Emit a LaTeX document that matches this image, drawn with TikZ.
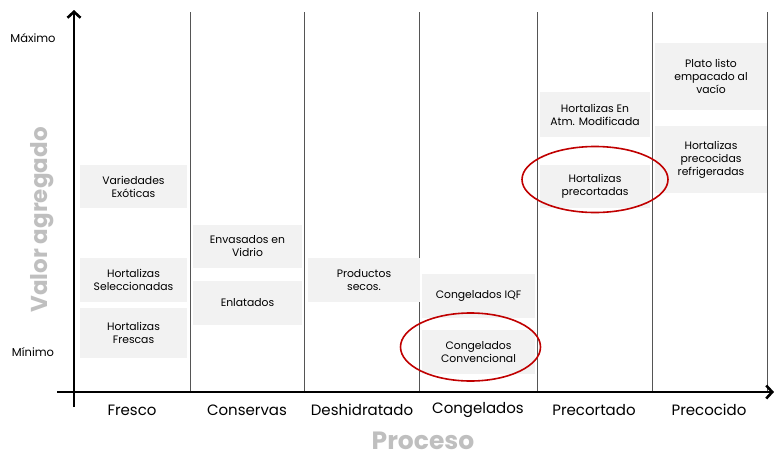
\documentclass[tikz,border=0pt]{standalone}
\usepackage{fontspec}
\setmainfont{Poppins}
\usetikzlibrary{arrows.meta}
\definecolor{blkGRY}{HTML}{F2F2F2}
\definecolor{axTTL}{HTML}{BFBFBF}
\definecolor{ovlRED}{HTML}{C00000}
\definecolor{sepLN}{HTML}{555555}
% product block: name, x-left, x-right, y-top, y-bottom, text
\newcommand{\prodblk}[6]{%
  \pgfmathsetmacro{\pbcx}{(#2+#3)/2}%
  \pgfmathsetmacro{\pbcy}{(#4+#5)/2}%
  \pgfmathsetmacro{\pbw}{#3-#2}%
  \pgfmathsetmacro{\pbh}{#5-#4}%
  \node[blk, minimum width=\pbw pt, minimum height=\pbh pt] (#1) at (\pbcx,\pbcy) {#6};}

\begin{document}
\begin{tikzpicture}[x=1pt, y=-1pt,
  blk/.style={fill=blkGRY, inner sep=1pt, font=\fontsize{10.8}{13}\selectfont, align=center},
  cat/.style={font=\fontsize{15}{17}\selectfont},
  lvl/.style={font=\fontsize{11.5}{13}\selectfont},
  ttl/.style={font=\fontsize{23}{25}\selectfont\bfseries, text=axTTL, inner sep=0pt},
  sep/.style={draw=sepLN, line width=0.8pt},
  oval/.style={draw=ovlRED, line width=1.6pt}]
\useasboundingbox (0,0) rectangle (774,458);
% column separators
\foreach \x in {190,304,419,537,652,767}
  {\draw[sep] (\x,12) -- (\x,392);}
% Fresco
\prodblk{exot}{80}{187}{165}{208}{Variedades\\Exóticas}
\prodblk{selec}{80}{187}{258}{302}{Hortalizas\\Seleccionadas}
\prodblk{fresc}{80}{187}{308}{358}{Hortalizas\\Frescas}
% Conservas
\prodblk{vidr}{193}{302}{225}{268}{Envasados en\\Vidrio}
\prodblk{enlat}{193}{302}{281}{325}{Enlatados}
% Deshidratado
\prodblk{secos}{308}{420}{258}{302}{Productos\\secos.}
% Congelados
\prodblk{iqf}{422}{535}{274}{318}{Congelados IQF}
\prodblk{conv}{422}{535}{330}{374}{Congelados\\Convencional}
% Precortado
\prodblk{atm}{540}{650}{92}{137}{Hortalizas En\\Atm. Modificada}
\prodblk{prect}{540}{650}{165}{208}{Hortalizas\\precortadas}
% Precocido
\prodblk{plato}{655}{767}{43}{110}{Plato listo\\empacado al\\vacío}
\prodblk{refr}{655}{767}{126}{193}{Hortalizas\\precocidas\\refrigeradas}
% axes
\coordinate (ytop) at (74,10);
\coordinate (ybot) at (74,407);
\coordinate (xlft) at (57,392);
\coordinate (xrgt) at (774,392);
\draw[line width=2.6pt, -{Straight Barb[length=6pt, width=13pt]}] (ybot) -- (ytop);
\draw[line width=2.6pt, -{Straight Barb[length=6pt, width=13pt]}] (xlft) -- (xrgt);
% axis labels
\node[lvl] (max) at (33,38) {Máximo};
\node[lvl] (min) at (33,352) {Mínimo};
\node[ttl, rotate=90] (vag) at (42,220) {Valor agregado};
\node[ttl, font=\fontsize{25}{27}\selectfont\bfseries] (proc) at (423,441) {Proceso};
\foreach \x/\t in {132/Fresco, 247/Conservas, 362/Deshidratado, 478/Congelados, 594/Precortado, 709/Precocido}
  {\node[cat] (c-\t) at (\x,410) {\t};}
% highlighted options
\draw[oval] ([shift={(-8,-5)}]conv.center) ellipse [x radius=70, y radius=34];
\draw[oval] ([shift={(0,-7)}]prect.center) ellipse [x radius=73, y radius=33];
\end{tikzpicture}
\end{document}
